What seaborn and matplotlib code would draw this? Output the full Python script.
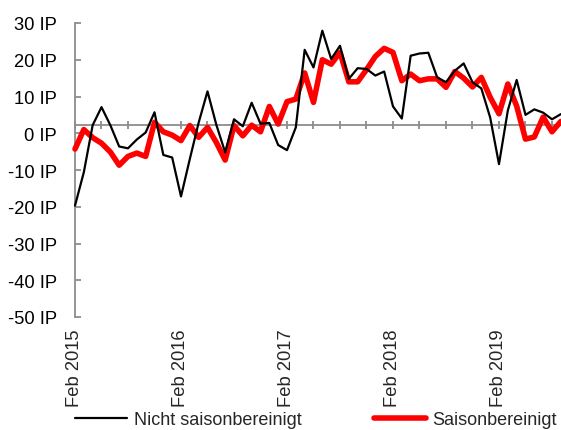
import matplotlib
matplotlib.use("Agg")
import matplotlib.pyplot as plt
import numpy as np
import pandas as pd
import seaborn as sns

# Monthly values, Feb 2015 .. Sep 2019 (IP = index points)
nicht_saisonbereinigt = [
    -19.7, -10.6, 2.2, 7.1, 2.2, -3.6, -4.1, -1.7, 0.2, 5.7, -5.9, -6.6,
    -17.2, -7.0, 2.9, 11.4, 2.3, -5.2, 3.8, 1.9, 8.3, 2.6, 2.8, -3.2,
    -4.6, 1.6, 22.7, 17.9, 27.9, 20.2, 23.8, 14.8, 17.7, 17.5, 15.7, 16.8,
    7.3, 4.0, 21.1, 21.7, 21.9, 15.2, 13.9, 17.0, 19.0, 13.9, 12.2, 4.3,
    -8.4, 6.2, 14.5, 5.0, 6.5, 5.6, 3.8, 5.2,
]
saisonbereinigt = [
    -4.3, 1.0, -1.2, -2.7, -5.1, -8.7, -6.3, -5.4, -6.3, 3.0, 0.4, -0.5,
    -2.0, 2.1, -1.1, 1.6, -2.5, -7.3, 2.1, -0.7, 2.2, 0.4, 7.3, 2.5,
    8.6, 9.3, 16.4, 8.4, 20.0, 18.8, 22.0, 14.0, 14.0, 17.3, 20.9, 23.1,
    22.0, 14.3, 16.1, 14.3, 14.8, 14.8, 12.5, 16.8, 15.0, 12.6, 15.2, 9.8,
    5.3, 13.4, 7.4, -1.6, -1.0, 4.4, 0.4, 3.2,
]
year_labels = ["Feb 2015", "Feb 2016", "Feb 2017", "Feb 2018", "Feb 2019"]
y_ticks = [-50, -40, -30, -20, -10, 0, 10, 20, 30]
x_cross = 2.3  # where the category axis crosses the value axis

months = np.arange(len(saisonbereinigt))
df = pd.DataFrame({"month": months,
                   "nicht": nicht_saisonbereinigt,
                   "saison": saisonbereinigt})

sns.set_theme(style="white")
plt.rcParams["font.family"] = ["Liberation Sans", "DejaVu Sans"]
fs = 13.2

fig = plt.figure(figsize=(5.61, 4.31), dpi=100)
ax = fig.add_axes([75 / 561, 1 - 318 / 431, 1 - 75 / 561, (318 - 24) / 431])

sns.lineplot(data=df, x="month", y="nicht", ax=ax, color="black",
             linewidth=1.6, label="Nicht saisonbereinigt", zorder=4)
sns.lineplot(data=df, x="month", y="saison", ax=ax, color="#ff0000",
             linewidth=4.0, label="Saisonbereinigt", zorder=3)
for ln in ax.lines:
    ln.set_solid_joinstyle("round")
    ln.set_solid_capstyle("round")
    ln.set_clip_on(False)

gray = "#8c8c8c"
ax.set_ylim(-50, 30)
ax.set_xlim(0, 55.02)
ax.set_yticks(y_ticks)
ax.set_yticklabels([f"{v} IP" for v in y_ticks])
ax.set_xlabel("")
ax.set_ylabel("")

for s in ["top", "right"]:
    ax.spines[s].set_visible(False)
ax.spines["left"].set_color(gray)
ax.spines["left"].set_linewidth(1.3)
ax.spines["bottom"].set_position(("data", x_cross))
ax.spines["bottom"].set_color(gray)
ax.spines["bottom"].set_linewidth(1.3)
ax.spines["bottom"].set_zorder(1)

ax.tick_params(axis="y", direction="in", length=4.5, width=1.3, color=gray,
               pad=13, labelsize=fs, labelcolor="black", left=True)
ax.set_xticks(np.arange(0, len(months), 3))
ax.tick_params(axis="x", direction="inout", length=6, width=1.3, color=gray,
               labelbottom=False, bottom=True)

sec = ax.secondary_xaxis(0.0)
sec.set_xticks([0, 12, 24, 36, 48])
sec.set_xticklabels(year_labels, rotation=90, fontsize=fs)
sec.tick_params(length=0, pad=8)
sec.spines["bottom"].set_visible(False)

ax.legend(loc="center left", bbox_to_anchor=(75 / 561, 10 / 431),
          bbox_transform=fig.transFigure, ncol=2, frameon=False,
          fontsize=13, handlelength=2.9, handletextpad=0.35,
          columnspacing=4.0, borderpad=0, borderaxespad=0)

fig.savefig("out.png", dpi=100)
